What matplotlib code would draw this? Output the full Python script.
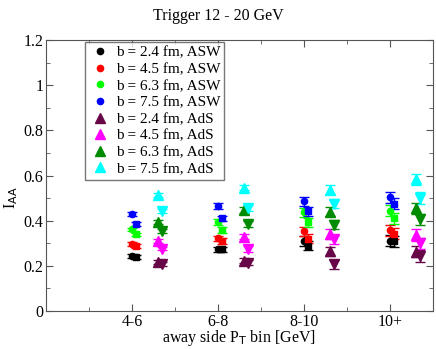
import numpy as np
import matplotlib.pyplot as plt

plt.rcParams['font.family'] = ['Liberation Serif', 'DejaVu Serif']

bins = ['4-6', '6-8', '8-10', '10+']
xpos = np.array([1, 2, 3, 4])
b_labels = ['b = 2.4 fm', 'b = 4.5 fm', 'b = 6.3 fm', 'b = 7.5 fm']

# ASW, circles and squares
asw_circ = [[0.243, 0.273, 0.310, 0.311],
            [0.296, 0.322, 0.354, 0.357],
            [0.361, 0.395, 0.438, 0.444],
            [0.430, 0.465, 0.487, 0.504]]
asw_sq = [[0.238, 0.273, 0.288, 0.308],
          [0.288, 0.310, 0.319, 0.342],
          [0.339, 0.358, 0.394, 0.410],
          [0.386, 0.410, 0.442, 0.476]]
# AdS, up and down triangles
ads_up = [[0.218, 0.223, 0.265, 0.262],
          [0.311, 0.329, 0.341, 0.336],
          [0.395, 0.447, 0.439, 0.454],
          [0.513, 0.546, 0.538, 0.584]]
ads_dn = [[0.208, 0.214, 0.206, 0.243],
          [0.276, 0.274, 0.317, 0.300],
          [0.354, 0.385, 0.381, 0.406],
          [0.442, 0.457, 0.476, 0.501]]
errs = [0.008, 0.012, 0.02, 0.025]

asw_colors = ['black', 'red', '#00ff00', 'blue']
ads_colors = ['#670748', '#ff00ff', '#008b00', '#00ffff']

fig = plt.figure(figsize=(4.36, 3.49), dpi=100)
ax = fig.add_axes([0.1055, 0.109, 0.8875, 0.776])

eb = dict(ls='none', elinewidth=1, capsize=3.5, capthick=1)
for i in range(4):
    ax.errorbar(xpos, asw_circ[i], yerr=errs, fmt='o', color=asw_colors[i], ms=4.5,
                label=b_labels[i] + ', ASW', **eb)
    ax.errorbar(xpos + 0.05, asw_sq[i], yerr=errs, fmt='s', color=asw_colors[i], ms=4.5, **eb)
for i in range(4):
    ax.errorbar(xpos + 0.30, ads_up[i], yerr=errs, fmt='^', color=ads_colors[i], ms=6.5,
                label=b_labels[i] + ', AdS', **eb)
    ax.errorbar(xpos + 0.35, ads_dn[i], yerr=errs, fmt='v', color=ads_colors[i], ms=6.5, **eb)

ax.set_xlim(0, 4.5)
ax.set_ylim(0, 1.2)
ax.set_xticks(xpos)
ax.set_xticklabels(bins)
ax.set_xticks(np.arange(0.5, 4.5, 1.0), minor=True)
yt = [0, 0.2, 0.4, 0.6, 0.8, 1.0, 1.2]
ax.set_yticks(yt)
ax.set_yticklabels(['0', '0.2', '0.4', '0.6', '0.8', '1', '1.2'])
ax.set_yticks(np.arange(0.1, 1.2, 0.2), minor=True)
ax.tick_params(which='both', direction='in', top=True, right=True, labelsize=11.5,
               color='#555555', pad=2)
ax.tick_params(which='major', length=5)
ax.tick_params(which='minor', length=3)
for s in ax.spines.values():
    s.set_color('#555555')

ax.set_xlabel('away side P$_\\mathrm{T}$ bin [GeV]', fontsize=11.5, labelpad=-1)
ax.set_ylabel('I$_\\mathrm{AA}$', fontsize=11.5)
ax.yaxis.set_label_coords(-0.068, 0.42)
fig.suptitle('Trigger 12 - 20 GeV', fontsize=11.5, y=0.978)

handles, labels = ax.get_legend_handles_labels()
handles = [h[0] for h in handles]
leg = ax.legend(handles, labels, loc='upper left', bbox_to_anchor=(0.1, 0.993), fontsize=11,
                frameon=True, fancybox=False, borderaxespad=0, handletextpad=0.3,
                handlelength=1.5, labelspacing=0.19, borderpad=0.25)
leg.get_frame().set_edgecolor('#555555')
leg.get_frame().set_linewidth(1)

fig.savefig('out.png', dpi=100)
